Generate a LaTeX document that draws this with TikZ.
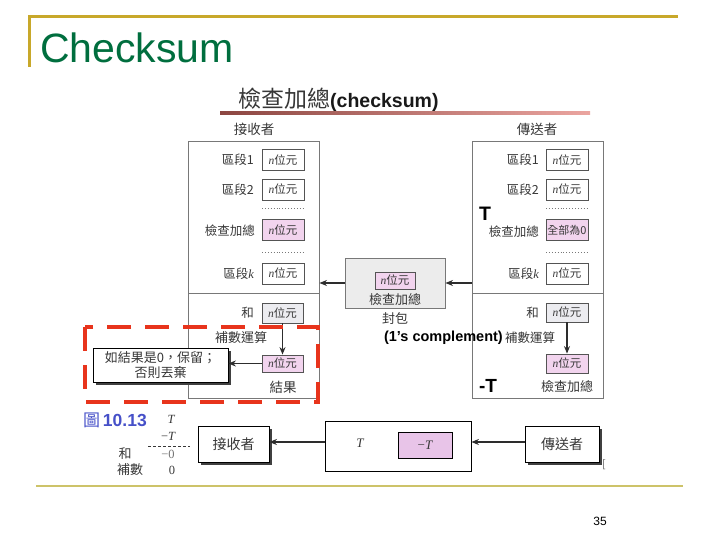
\documentclass[tikz,border=0pt]{standalone}
\usepackage{fontspec}
\setmainfont{Liberation Sans}
\newfontfamily\cjk{Noto Sans CJK TC}
\newfontfamily\tnr{Liberation Serif}
\usetikzlibrary{arrows.meta,shadows}
\newcommand\fsz[1]{\fontsize{#1}{#1}\selectfont}
\newcommand\nbit{{\tnr\itshape n}{\cjk 位元}}
\definecolor{gold}{RGB}{200,168,42}
\definecolor{goldlite}{RGB}{205,195,105}
\definecolor{titlegreen}{RGB}{0,110,62}
\definecolor{pinkfill}{RGB}{242,212,238}
\definecolor{pinkdark}{RGB}{232,196,232}
\definecolor{sumfill}{RGB}{236,236,240}
\definecolor{pktfill}{RGB}{236,236,236}
\definecolor{boxline}{RGB}{120,120,120}
\definecolor{txtgray}{RGB}{55,55,55}
\definecolor{dashred}{RGB}{232,52,28}
\definecolor{figblue}{RGB}{70,80,200}
\definecolor{ulA}{RGB}{140,70,65}
\definecolor{ulB}{RGB}{235,165,160}
\definecolor{arrgray}{RGB}{45,45,45}
\begin{document}
\begin{tikzpicture}[x=1pt,y=-1pt,
  lbl/.style={font=\cjk\fsz{12.5}, text=txtgray, inner sep=0pt},
  cell/.style={draw=boxline!70!black, line width=0.8pt, minimum width=42pt, minimum height=21pt, inner sep=0pt, font=\fsz{11.5}, text=txtgray},
  mainbox/.style={draw=boxline, line width=0.9pt, inner sep=0pt},
  arr/.style={draw=arrgray, line width=1.2pt, -{Stealth[length=7.5pt,width=6pt]}},
  dots/.style={draw=boxline, line width=0.9pt, dotted},
  shbox/.style={draw=black, fill=white, line width=0.8pt, inner sep=0pt, drop shadow={shadow xshift=2.5pt, shadow yshift=-2.5pt, fill=black!75, opacity=1}},
  mathlbl/.style={font=\tnr\fsz{12.5}, text=txtgray, inner sep=0pt}
]
\useasboundingbox (0,0) rectangle (720,540);
% slide frame
\draw[gold, line width=3pt] (28,17) -- (678,17);
\draw[gold, line width=3pt] (29.5,17) -- (29.5,67);
\draw[goldlite, line width=2pt] (36,486) -- (683,486);
\node[anchor=base west, inner sep=0pt, text=titlegreen, font=\fsz{41}] (title) at (40,63) {Checksum};
\node[inner sep=0pt, font=\fsz{12}, text=black] (pg) at (600,521) {35};

% heading
\node[anchor=base west, inner sep=0pt, text=txtgray] (head) at (238,108)
  {{\cjk\fsz{23}檢查加總}{\color{black!90}\bfseries\fsz{19.5}(checksum)}};
\shade[left color=ulA, right color=ulB] (220,111.5) rectangle (590,114.5);

% receiver
\node[lbl, font=\cjk\fsz{13.5}] (rxname) at (254,129) {接收者};
\node[mainbox, minimum width=131pt, minimum height=152pt] (rxup) at (253.5,217) {};
\node[mainbox, minimum width=131pt, minimum height=105pt] (rxlo) at (253.5,345.5) {};
\node[cell] (r1) at (283,160) {\nbit};
\node[cell] (r2) at (283,189.5) {\nbit};
\node[cell, fill=pinkfill] (rc) at (283,230) {\nbit};
\node[cell] (rk) at (283,273.5) {\nbit};
\node[lbl, anchor=east] (r1l) at (254,160) {區段1};
\node[lbl, anchor=east] (r2l) at (254,189.5) {區段2};
\node[lbl, anchor=east] (rcl) at (255,231) {檢查加總};
\node[lbl, anchor=east] (rkl) at (254,273.5) {區段{\tnr\itshape k}};
\draw[dots] (262,208) -- (304,208);
\draw[dots] (262,252) -- (304,252);
\node[cell, fill=sumfill, minimum width=41pt, minimum height=20pt] (rsum) at (282.5,313) {\nbit};
\node[lbl, anchor=east] (rsuml) at (254,313) {和};
\node[cell, fill=pinkfill, minimum width=41pt, minimum height=17pt] (rres) at (282.5,363.5) {\nbit};
\node[lbl, font=\cjk\fsz{13}] (rcomp) at (241,338) {補數運算};
\node[lbl, font=\cjk\fsz{13.5}] (rresl) at (283,387) {結果};
\draw[arr] (rsum) -- (rres);

% note box
\node[shbox, minimum width=135pt, minimum height=34pt, align=center, font=\cjk\fontsize{13}{14.5}\selectfont, text=txtgray] (note) at (160.5,365) {如結果是0，保留；\\否則丟棄};
\draw[arr] (rres.west) -- (note.east |- rres.west);
\draw[dashred, line width=4pt, dash pattern=on 24pt off 14pt] (85,327) rectangle (318,402);

% sender
\node[lbl, font=\cjk\fsz{13.5}] (sxname) at (537,129) {傳送者};
\node[mainbox, minimum width=131pt, minimum height=152pt] (sxup) at (537.5,217) {};
\node[mainbox, minimum width=131pt, minimum height=105pt] (sxlo) at (537.5,345.5) {};
\node[cell] (s1) at (567,160) {\nbit};
\node[cell] (s2) at (567,189.5) {\nbit};
\node[cell, fill=pinkfill, font=\cjk\fsz{11}] (sc) at (567,230) {全部為0};
\node[cell] (sk) at (567,273.5) {\nbit};
\node[lbl, anchor=east] (s1l) at (539,160) {區段1};
\node[lbl, anchor=east] (s2l) at (539,189.5) {區段2};
\node[lbl, anchor=east] (scl) at (539,232) {檢查加總};
\node[lbl, anchor=east] (skl) at (539,273.5) {區段{\tnr\itshape k}};
\draw[dots] (546,208) -- (588,208);
\draw[dots] (546,252) -- (588,252);
\node[inner sep=0pt, font=\bfseries\fsz{19.5}] (tT) at (485,214) {T};
\node[cell, fill=sumfill, minimum height=19pt] (ssum) at (567,312.5) {\nbit};
\node[lbl, anchor=east] (ssuml) at (539,313) {和};
\node[cell, fill=pinkfill, minimum height=19pt] (sres) at (567,363.5) {\nbit};
\node[lbl, font=\cjk\fsz{13}] (sresl) at (567,387) {檢查加總};
\node[inner sep=0pt, font=\bfseries\fsz{19}] (tmT) at (488,386) {-T};
\node[inner sep=0pt, font=\bfseries\fsz{14.5}, anchor=east] (ones) at (503,338) {(1's complement)};
\node[lbl, font=\cjk\fsz{12.5}, anchor=west] (scomp) at (505,338) {補數運算};
\draw[arr] (ssum) -- (sres);

% packet
\node[mainbox, fill=pktfill, minimum width=100pt, minimum height=50pt] (pkt) at (395,283) {};
\node[cell, fill=pinkfill, minimum width=40pt, minimum height=17pt] (pc) at (395,280.5) {\nbit};
\node[lbl, font=\cjk\fsz{13}] (pcl) at (395,300) {檢查加總};
\node[lbl, font=\cjk\fsz{13}] (pktl) at (395,319) {封包};
\draw[arr] (sxup.west |- pkt.east) -- (pkt.east);
\draw[arr] (pkt.west) -- (rxup.east |- pkt.west);

% bottom row
\node[inner sep=0pt, anchor=west, text=figblue] (fig) at (83,420) {{\cjk\fsz{17}圖} {\bfseries\fsz{17.5}10.13}};
\node[mathlbl, font=\tnr\itshape\fsz{12.5}] (mT) at (171,419) {T};
\node[mathlbl] (mmT) at (168,436) {−{\itshape T}};
\draw[txtgray, line width=0.8pt, dash pattern=on 3pt off 2pt] (148,446) -- (190,446);
\node[lbl, font=\cjk\fsz{13}] (he) at (125,454) {和};
\node[mathlbl, text=black!55] (m0) at (168,454) {−0};
\node[lbl, font=\cjk\fsz{13}] (bs) at (130,470) {補數};
\node[mathlbl] (z0) at (172,470) {0};

\node[shbox, minimum width=71pt, minimum height=36pt, font=\cjk\fsz{14}, text=txtgray] (rx2) at (233.5,444) {接收者};
\node[draw=black, line width=0.8pt, fill=white, minimum width=146pt, minimum height=50pt, inner sep=0pt] (mid) at (398,446) {};
\node[mathlbl, font=\tnr\itshape\fsz{13}] (midT) at (360,443) {T};
\node[draw=black, line width=0.8pt, fill=pinkdark, minimum width=54pt, minimum height=26pt, inner sep=0pt, font=\tnr\fsz{13}, text=txtgray] (midmT) at (425,445) {−{\itshape T}};
\node[shbox, minimum width=74pt, minimum height=36pt, font=\cjk\fsz{14}, text=txtgray] (sx2) at (562,444) {傳送者};
\draw[arr] (sx2.west |- 0,442) -- (mid.east |- 0,442);
\draw[arr] (mid.west |- 0,442) -- (rx2.east |- 0,442);
\node[inner sep=0pt, font=\fsz{11}, text=black!50] (brk) at (604,465) {[};
\end{tikzpicture}
\end{document}
